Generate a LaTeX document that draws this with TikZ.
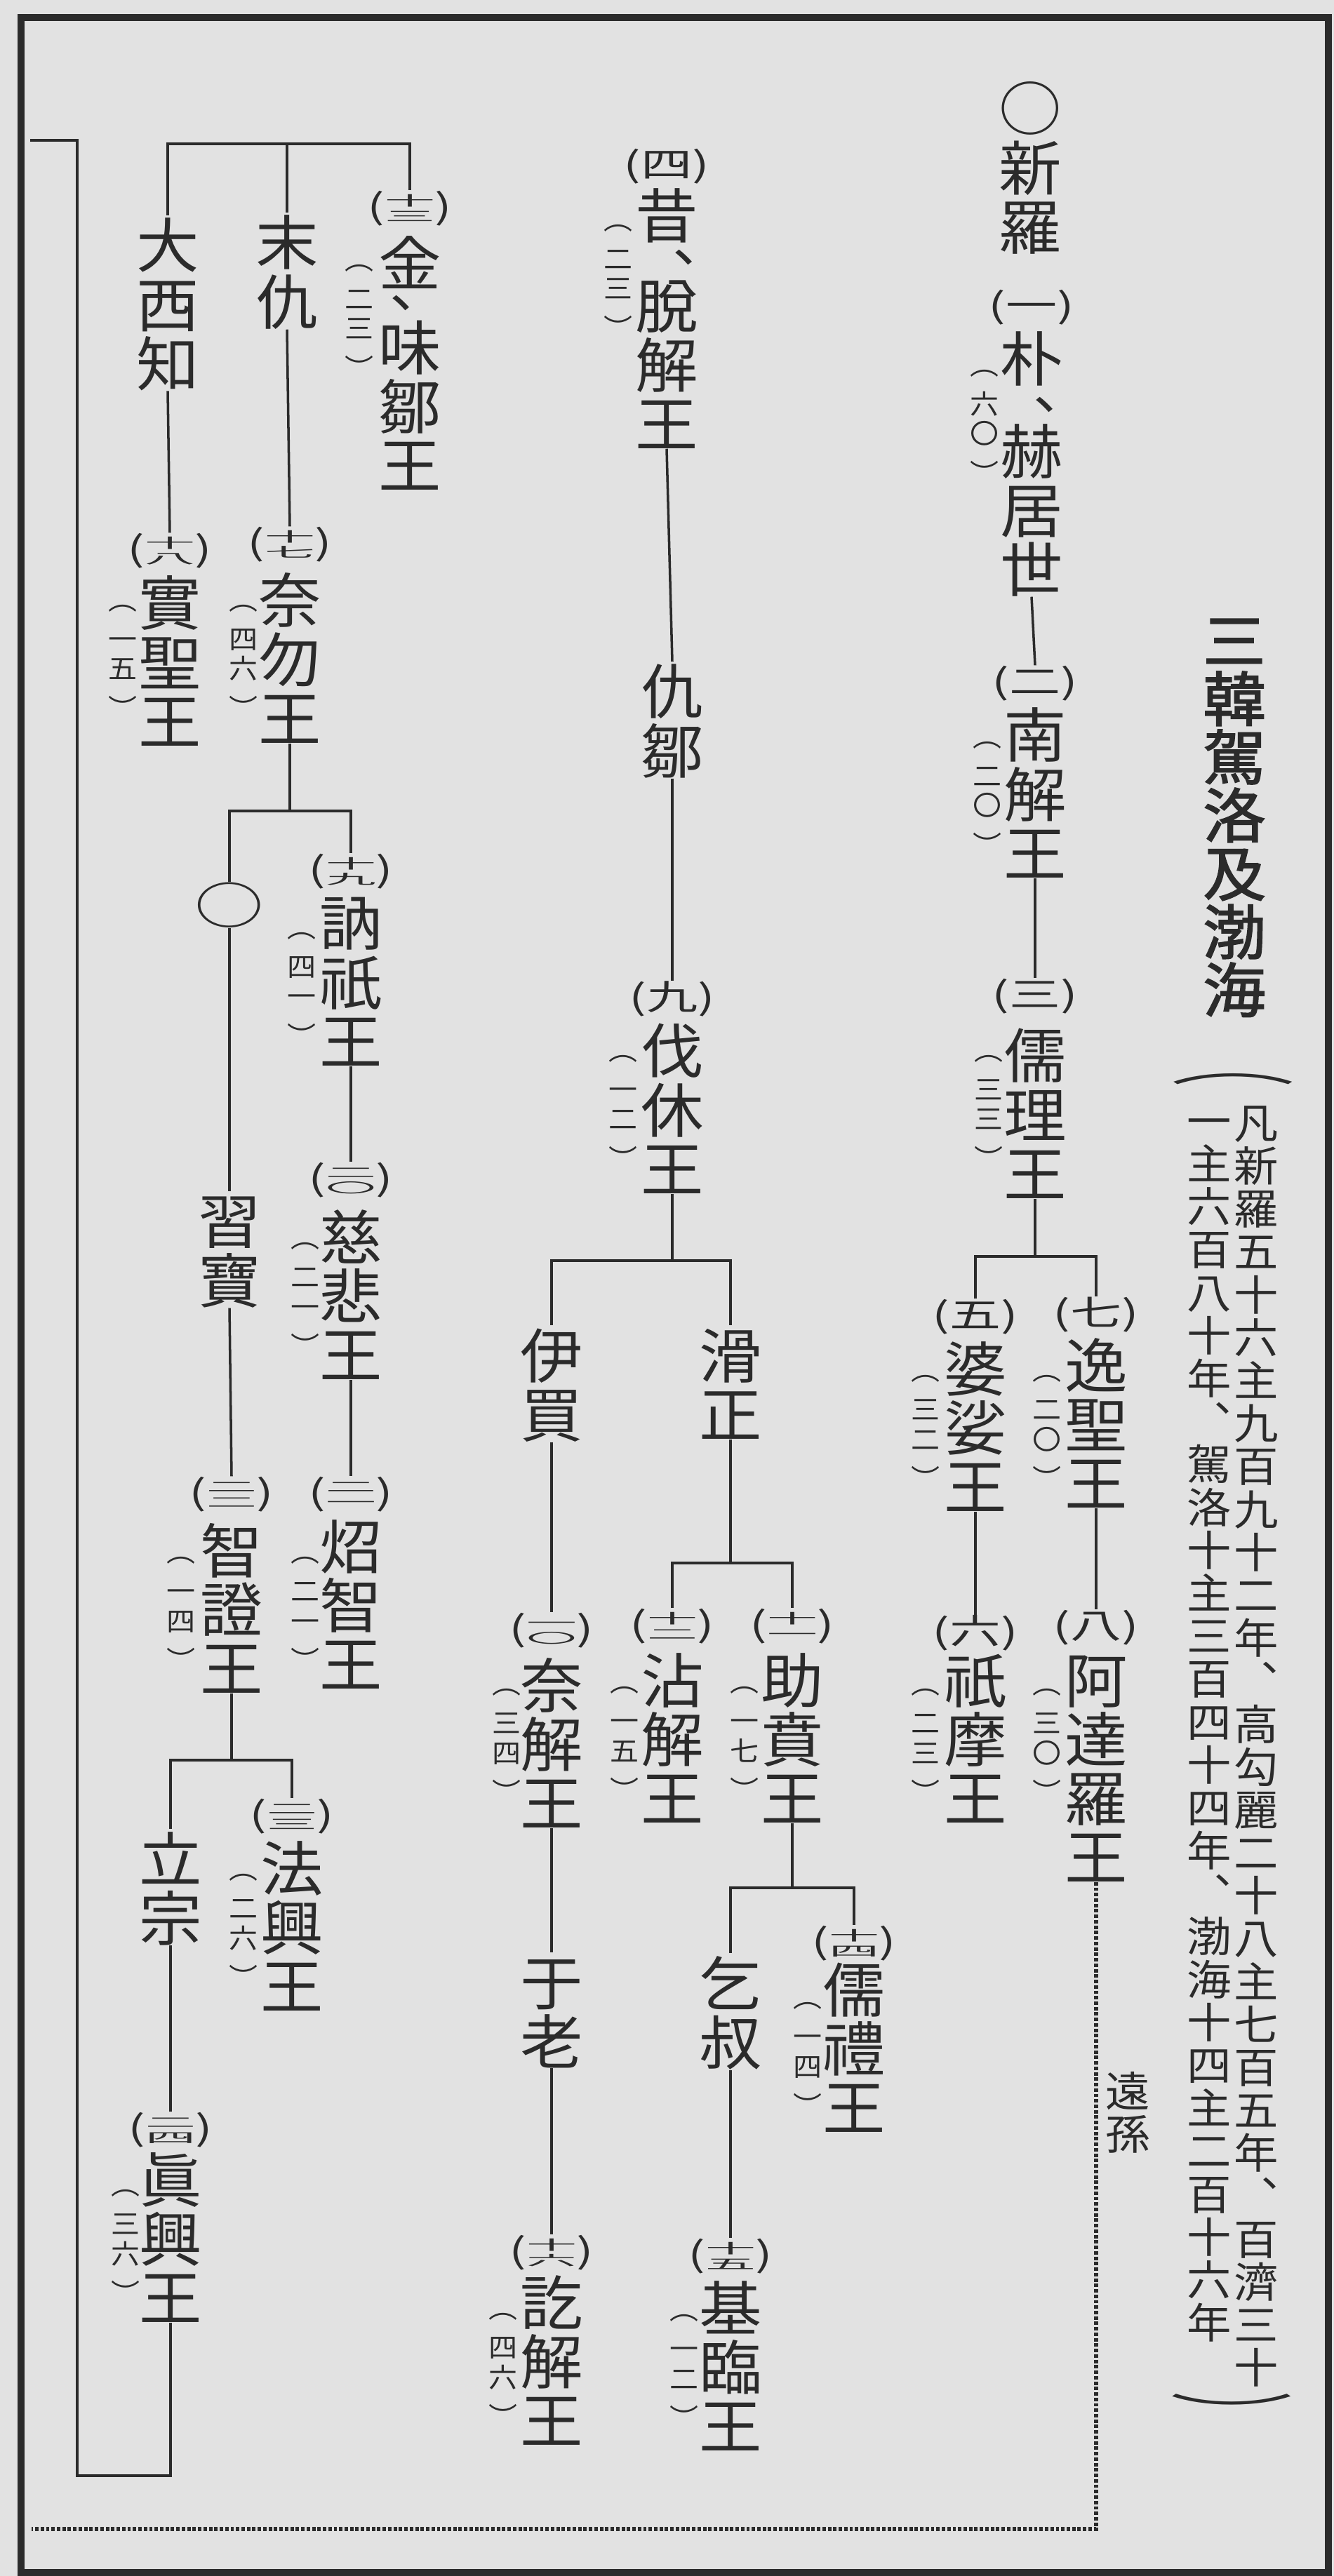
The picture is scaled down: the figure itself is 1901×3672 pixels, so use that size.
\documentclass[tikz,border=0pt]{standalone}
\usepackage{fontspec}
\usepackage{graphicx}
\setmainfont{Noto Sans CJK JP}[FakeStretch=1.06]
\newfontfamily\ttlfont{Noto Sans CJK JP}[FakeStretch=1.06,FakeBold=2]
\definecolor{paper}{HTML}{E2E2E2}
\definecolor{ink}{HTML}{2B2B2B}
\newcommand\nmfont{\fontsize{24pt}{23.9pt}\selectfont}
\newcommand\ordfont{\fontsize{14pt}{16pt}\selectfont}
\newcommand\annfont{\fontsize{11pt}{11.95pt}\selectfont}
\newcommand\notefont{\fontsize{17pt}{17.4pt}\selectfont}
\newcommand\nmstrut{\rule{0pt}{0.88em}}
\newcommand\ordn[1]{\scalebox{1.4}[1]{(#1)}}
\newcommand\twod[2]{\raisebox{-1pt}{\scalebox{2.5}[1]{\vbox{\offinterlineskip\fontsize{5.5pt}{5.5pt}\selectfont\hbox{\rule[-0.29em]{0pt}{1.16em}#1}\hbox{\rule[-0.29em]{0pt}{1.16em}#2}}}}}
\newcommand\cma[2]{\smash{\rlap{\hspace{#1}\raisebox{#2}{\fontsize{22pt}{22pt}\selectfont 、}}}}
\begin{document}
\begin{tikzpicture}[x=0.01cm, y=-0.01cm,
    nm/.style={font=\nmfont, align=center, inner sep=0pt, anchor=north, text=ink},
    ord/.style={font=\ordfont, inner sep=0pt, text=ink},
    ann/.style={font=\annfont, align=center, inner sep=0pt, anchor=north, text=ink},
    note/.style={font=\notefont, align=center, inner sep=0pt, anchor=north, text=ink},
    ttl/.style={font=\ttlfont\fontsize{24pt}{23.6pt}\selectfont, align=center, inner sep=0pt, anchor=north, text=ink},
    ln/.style={draw=ink, line width=1pt},
    dotln/.style={draw=ink, line width=1.6pt, dash pattern=on 1.4pt off 0.8pt},
    frm/.style={draw=ink, line width=2.6pt}
]
\fill[paper] (0,0) rectangle (1901,3672);
\useasboundingbox (0,0) rectangle (1901,3672);
\draw[frm] (30,25) rectangle (1893,3667);

\node[ttl] (ttl) at (1759,870) {\nmstrut 三\\韓\\駕\\洛\\及\\渤\\海};
\node[note] (pl) at (1757,1530) {\scalebox{2.8}[1]{︵}};
\node[note] (nr) at (1790,1570) {\nmstrut 凡\\新\\羅\\五\\十\\六\\主\\九\\百\\九\\十\\二\\年\\︑\\高\\勾\\麗\\二\\十\\八\\主\\七\\百\\五\\年\\︑\\百\\濟\\三\\十};
\node[note] (nl) at (1723,1567) {\nmstrut 一\\主\\六\\百\\八\\十\\年\\︑\\駕\\洛\\十\\主\\三\\百\\四\\十\\四\\年\\︑\\渤\\海\\十\\四\\主\\二\\百\\十\\六\\年};
\node[note] (pr) at (1755,3412) {\scalebox{2.8}[1]{︶}};

\node[nm] (hd) at (1468,112) {\nmstrut ○\\新\\羅};
\node[ord] (o1) at (1470,438) {\ordn{一}};
\node[nm] (n1) at (1470,469) {\nmstrut 朴\\[13.4pt]\cma{13.5pt}{26.2pt}赫\\居\\世};
\node[ann] (a1) at (1403,527) {︵\\[4pt]六\\〇\\[4pt]︶};
\node[ord] (o2) at (1475,974) {\ordn{二}};
\node[nm] (n2) at (1475,1005) {\nmstrut 南\\解\\王};
\node[ann] (a2) at (1407,1057) {︵\\[4pt]二\\〇\\[4pt]︶};
\node[ord] (o3) at (1475,1420) {\ordn{三}};
\node[nm] (n3) at (1475,1462) {\nmstrut 儒\\理\\王};
\node[ann] (a3) at (1409,1504) {︵\\[4pt]三\\三\\[4pt]︶};
\node[ord] (o5) at (1390,1877) {\ordn{五}};
\node[nm] (n5) at (1390,1908) {\nmstrut 婆\\娑\\王};
\node[ann] (a5) at (1319,1960) {︵\\[4pt]三\\二\\[4pt]︶};
\node[ord] (o6) at (1390,2328) {\ordn{六}};
\node[nm] (n6) at (1390,2352) {\nmstrut 祇\\摩\\王};
\node[ann] (a6) at (1319,2407) {︵\\[4pt]二\\三\\[4pt]︶};
\node[ord] (o7) at (1562,1874) {\ordn{七}};
\node[nm] (n7) at (1562,1903) {\nmstrut 逸\\聖\\王};
\node[ann] (a7) at (1492,1960) {︵\\[4pt]二\\〇\\[4pt]︶};
\node[ord] (o8) at (1562,2320) {\ordn{八}};
\node[nm] (n8) at (1562,2352) {\nmstrut 阿\\達\\羅\\王};
\node[ann] (a8) at (1492,2407) {︵\\[4pt]三\\〇\\[4pt]︶};
\node[note] (nys) at (1607,2950) {\fontsize{17pt}{18.5pt}\selectfont\nmstrut 遠\\孫};

\node[ord] (o4) at (950,237) {\ordn{四}};
\node[nm] (n4) at (950,265) {\nmstrut 昔\\[12.5pt]\cma{15.2pt}{27pt}脫\\解\\王};
\node[ann] (a4) at (881,320) {︵\\[4pt]二\\三\\[4pt]︶};
\node[nm] (nqz) at (958,943) {\nmstrut 仇\\鄒};
\node[ord] (o9) at (958,1424) {\ordn{九}};
\node[nm] (n9) at (958,1455) {\nmstrut 伐\\休\\王};
\node[ann] (a9) at (888,1504) {︵\\[4pt]一\\二\\[4pt]︶};
\node[nm] (nim) at (786,1889) {\nmstrut 伊\\買};
\node[nm] (ngj) at (1041,1889) {\nmstrut 滑\\正};
\node[ord] (o10) at (786,2324) {\ordn{\twod{一}{〇}}};
\node[nm] (n10) at (786,2359) {\nmstrut 奈\\解\\王};
\node[ann] (a10) at (722,2407) {︵\\[4pt]三\\四\\[4pt]︶};
\node[nm] (nul) at (786,2783) {\nmstrut 于\\老};
\node[ord] (o16) at (786,3211) {\ordn{\twod{十}{六}}};
\node[nm] (n16) at (786,3239) {\nmstrut 訖\\解\\王};
\node[ann] (a16) at (717,3297) {︵\\[4pt]四\\六\\[4pt]︶};
\node[ord] (o12) at (958,2318) {\ordn{\twod{十}{二}}};
\node[nm] (n12) at (958,2352) {\nmstrut 沾\\解\\王};
\node[ann] (a12) at (890,2404) {︵\\[4pt]一\\五\\[4pt]︶};
\node[ord] (o11) at (1129,2318) {\ordn{\twod{十}{一}}};
\node[nm] (n11) at (1129,2352) {\nmstrut 助\\賁\\王};
\node[ann] (a11) at (1061,2404) {︵\\[4pt]一\\七\\[4pt]︶};
\node[nm] (nqs) at (1041,2784) {\nmstrut 乞\\叔};
\node[ord] (o15) at (1041,3216) {\ordn{\twod{十}{五}}};
\node[nm] (n15) at (1041,3247) {\nmstrut 基\\臨\\王};
\node[ann] (a15) at (975,3299) {︵\\[4pt]一\\二\\[4pt]︶};
\node[ord] (o14) at (1217,2770) {\ordn{\twod{十}{四}}};
\node[nm] (n14) at (1217,2793) {\nmstrut 儒\\禮\\王};
\node[ann] (a14) at (1151,2854) {︵\\[4pt]一\\四\\[4pt]︶};

\node[ord] (o13) at (584,297) {\ordn{\twod{十}{三}}};
\node[nm] (n13) at (584,333) {\nmstrut 金\\[10.2pt]\cma{4.7pt}{25.3pt}味\\鄒\\王};
\node[ann] (a13) at (512,377) {︵\\[4pt]二\\三\\[4pt]︶};
\node[nm] (nmq) at (409,303) {\nmstrut 末\\仇};
\node[nm] (ndx) at (239,307) {\nmstrut 大\\西\\知};
\node[ord] (o17) at (413,776) {\ordn{\twod{十}{七}}};
\node[nm] (n17) at (413,813) {\nmstrut 奈\\勿\\王};
\node[ann] (a17) at (347,862) {︵\\[4pt]四\\六\\[4pt]︶};
\node[ord] (o18) at (242,785) {\ordn{\twod{十}{八}}};
\node[nm] (n18) at (242,817) {\nmstrut 實\\聖\\王};
\node[ann] (a18) at (175,862) {︵\\[4pt]一\\五\\[4pt]︶};
\node[ord] (nph) at (327,1290) {\nmfont\scalebox{1.1}[0.85]{○}};
\node[nm] (nxb) at (327,1698) {\nmstrut 習\\寶};
\node[ord] (o19) at (500,1242) {\ordn{\twod{十}{九}}};
\node[nm] (n19) at (500,1273) {\nmstrut 訥\\祇\\王};
\node[ann] (a19) at (430,1329) {︵\\[4pt]四\\一\\[4pt]︶};
\node[ord] (o20) at (500,1682) {\ordn{\twod{二}{〇}}};
\node[nm] (n20) at (500,1720) {\nmstrut 慈\\悲\\王};
\node[ann] (a20) at (435,1771) {︵\\[4pt]二\\一\\[4pt]︶};
\node[ord] (o21) at (500,2130) {\ordn{\twod{二}{一}}};
\node[nm] (n21) at (500,2161) {\nmstrut 炤\\智\\王};
\node[ann] (a21) at (435,2219) {︵\\[4pt]二\\一\\[4pt]︶};
\node[ord] (o22) at (330,2130) {\ordn{\twod{二}{二}}};
\node[nm] (n22) at (330,2167) {\nmstrut 智\\證\\王};
\node[ann] (a22) at (258,2219) {︵\\[4pt]一\\四\\[4pt]︶};
\node[nm] (nlz) at (243,2607) {\nmstrut 立\\宗};
\node[ord] (o23) at (416,2589) {\ordn{\twod{二}{三}}};
\node[nm] (n23) at (416,2620) {\nmstrut 法\\興\\王};
\node[ann] (a23) at (347,2671) {︵\\[4pt]二\\六\\[4pt]︶};
\node[ord] (o24) at (243,3036) {\ordn{\twod{二}{四}}};
\node[nm] (n24) at (243,3064) {\nmstrut 眞\\興\\王};
\node[ann] (a24) at (179,3121) {︵\\[4pt]三\\六\\[4pt]︶};

\coordinate (b3) at (1475,1791);
\coordinate (d1) at (1562,3605);
\coordinate (d2) at (45,3605);
\coordinate (b9) at (958,1797);
\coordinate (bgj) at (1041,2228);
\coordinate (b11) at (1129,2691);
\coordinate (b0) at (409,205);
\coordinate (b17) at (413,1156);
\coordinate (b22) at (330,2509);
\coordinate (u1) at (243,3529);
\coordinate (u2) at (110,3529);
\coordinate (u3) at (110,200);
\coordinate (u4) at (43,200);

\draw[ln] (n1.south) -- (o2.north);
\draw[ln] (n2.south) -- (o3.north);
\draw[ln] (n3.south) -- (b3);
\draw[ln] (o5.north) |- (b3) -| (o7.north);
\draw[ln] (n5.south) -- (o6.north);
\draw[ln] (n7.south) -- (o8.north);
\draw[dotln] (n8.south) -- (d1) -- (d2);
\draw[ln] (n4.south) -- (nqz.north);
\draw[ln] (nqz.south) -- (o9.north);
\draw[ln] (n9.south) -- (b9);
\draw[ln] (nim.north) |- (b9) -| (ngj.north);
\draw[ln] (nim.south) -- (o10.north);
\draw[ln] (n10.south) -- (nul.north);
\draw[ln] (nul.south) -- (o16.north);
\draw[ln] (ngj.south) -- (bgj);
\draw[ln] (o12.north) |- (bgj) -| (o11.north);
\draw[ln] (n11.south) -- (b11);
\draw[ln] (nqs.north) |- (b11) -| (o14.north);
\draw[ln] (nqs.south) -- (o15.north);
\draw[ln] (ndx.north) |- (b0) -| (o13.north);
\draw[ln] (nmq.north) -- (b0);
\draw[ln] (nmq.south) -- (o17.north);
\draw[ln] (ndx.south) -- (o18.north);
\draw[ln] (n17.south) -- (b17);
\draw[ln] (nph.north) |- (b17) -| (o19.north);
\draw[ln] (nph.south) -- (nxb.north);
\draw[ln] (n19.south) -- (o20.north);
\draw[ln] (n20.south) -- (o21.north);
\draw[ln] (nxb.south) -- (o22.north);
\draw[ln] (n22.south) -- (b22);
\draw[ln] (nlz.north) |- (b22) -| (o23.north);
\draw[ln] (nlz.south) -- (o24.north);
\draw[ln] (n24.south) -- (u1) -- (u2) -- (u3) -- (u4);
\end{tikzpicture}
\end{document}
